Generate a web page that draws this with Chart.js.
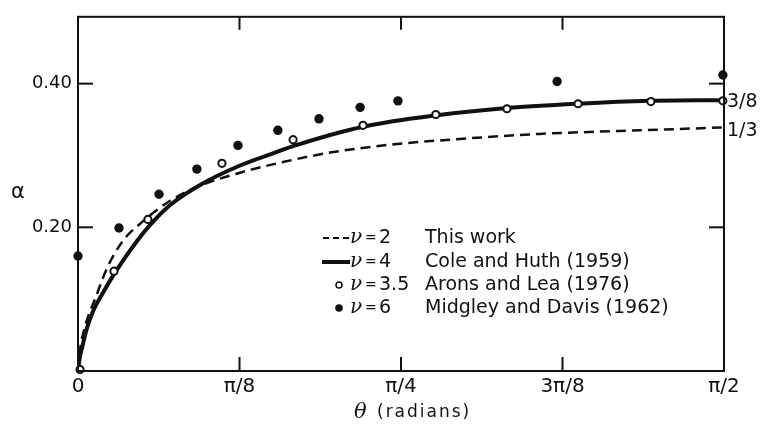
<!DOCTYPE html>
<html>
<head>
<meta charset="utf-8">
<script src="https://cdn.jsdelivr.net/npm/chart.js@4"></script>
<style>
  body { margin: 0; background: #fff; }
  canvas { display: block; }
</style>
</head>
<body>
<canvas id="alphaChart" width="763" height="427"></canvas>
<script>
// curve nu = 2 (this work), dashed
const thetaNu2 = [0, 0.004, 0.012, 0.046, 0.0705, 0.109, 0.151, 0.224, 0.297, 0.394, 0.484, 0.613, 0.759, 0.905, 1.123, 1.367, 1.5708];
const alphaNu2 = [0, 0.025, 0.051, 0.107, 0.143, 0.181, 0.205, 0.237, 0.258, 0.276, 0.289, 0.304, 0.315, 0.322, 0.330, 0.335, 0.339];

// curve nu = 4 (Cole and Huth), thick solid
const thetaNu4 = [0, 0.004, 0.0097, 0.0219, 0.0365, 0.0608, 0.090, 0.1435, 0.175, 0.224, 0.297, 0.394, 0.484, 0.523, 0.693, 0.873, 1.043, 1.216, 1.391, 1.5708];
const alphaNu4 = [0, 0.018, 0.032, 0.060, 0.083, 0.109, 0.137, 0.181, 0.203, 0.231, 0.259, 0.286, 0.305, 0.313, 0.340, 0.356, 0.366, 0.372, 0.376, 0.377];

// points nu = 3.5 (Arons and Lea), open circles
const thetaNu35 = [0.005, 0.0875, 0.170, 0.350, 0.523, 0.693, 0.870, 1.043, 1.216, 1.393, 1.568];
const alphaNu35 = [0.002, 0.139, 0.211, 0.289, 0.322, 0.342, 0.357, 0.365, 0.372, 0.375, 0.376];

// points nu = 6 (Midgley and Davis), filled dots
const thetaNu6 = [0, 0.0997, 0.197, 0.289, 0.389, 0.486, 0.586, 0.686, 0.778, 1.165, 1.568];
const alphaNu6 = [0.160, 0.199, 0.246, 0.281, 0.314, 0.335, 0.351, 0.367, 0.376, 0.403, 0.412];

const xTickVals = [0, Math.PI / 8, Math.PI / 4, 3 * Math.PI / 8, Math.PI / 2];
const xTickLabels = ['0', 'π/8', 'π/4', '3π/8', 'π/2'];
const yTickVals = [0.2, 0.4];
const yTickLabels = ['0.20', '0.40'];
const rightTickVals = [1 / 3, 3 / 8];
const rightTickLabels = ['1/3', '3/8'];

const legendNu = ['2', '4', '3.5', '6'];
const legendSource = ['This work', 'Cole and Huth (1959)', 'Arons and Lea (1976)', 'Midgley and Davis (1962)'];

const ink = '#111';
const sans = '"DejaVu Sans", sans-serif';

function pairs(xs, ys) {
  return xs.map((x, i) => ({ x, y: ys[i] }));
}

function line(ctx, x1, y1, x2, y2) {
  ctx.beginPath();
  ctx.moveTo(x1, y1);
  ctx.lineTo(x2, y2);
  ctx.stroke();
}

// frame, inward ticks, titles and the legend block
const decor = {
  id: 'decor',
  afterDraw(chart) {
    const { ctx, chartArea: a, scales: { x, y } } = chart;
    ctx.save();
    ctx.strokeStyle = ink;
    ctx.fillStyle = ink;
    ctx.lineWidth = 2;
    ctx.strokeRect(a.left, a.top, a.right - a.left, a.bottom - a.top);

    xTickVals.slice(1, -1).forEach(v => {
      const px = x.getPixelForValue(v);
      line(ctx, px, a.bottom, px, a.bottom - 14);
      line(ctx, px, a.top, px, a.top + 13);
    });
    yTickVals.forEach(v => {
      const py = y.getPixelForValue(v);
      line(ctx, a.left, py, a.left + 15, py);
      line(ctx, a.right, py, a.right - 15, py);
    });

    // axis titles
    ctx.textBaseline = 'middle';
    ctx.textAlign = 'left';
    ctx.font = '21px ' + sans;
    ctx.fillText('α', 11, 193);
    ctx.font = 'italic 21px "DejaVu Serif", serif';
    ctx.fillText('θ', 354, 413);
    ctx.font = '17px ' + sans;
    ctx.letterSpacing = '2px';
    ctx.fillText('(radians)', 377, 413);
    ctx.letterSpacing = '0px';

    // legend
    const rows = [238, 262, 285, 308];
    rows.forEach((ry, i) => {
      ctx.lineWidth = 2;
      if (i === 0) {
        ctx.lineWidth = 2.2;
        ctx.setLineDash([6, 4]);
        line(ctx, 323, ry, 349, ry);
        ctx.setLineDash([]);
      } else if (i === 1) {
        ctx.lineWidth = 4;
        line(ctx, 322, ry, 350, ry);
      } else if (i === 2) {
        ctx.lineWidth = 1.5;
        ctx.beginPath();
        ctx.arc(339, ry, 3, 0, Math.PI * 2);
        ctx.stroke();
      } else {
        ctx.beginPath();
        ctx.arc(339, ry, 3.8, 0, Math.PI * 2);
        ctx.fill();
      }
      ctx.font = 'italic 20px "DejaVu Serif", serif';
      ctx.fillText('ν', 350, ry);
      ctx.font = '14px ' + sans;
      ctx.fillText('=', 365, ry);
      ctx.font = '19px ' + sans;
      ctx.fillText(legendNu[i], 379, ry);
      ctx.fillText(legendSource[i], 425, ry);
    });
    ctx.restore();
  }
};

const ctx = document.getElementById('alphaChart').getContext('2d');
new Chart(ctx, {
  type: 'scatter',
  data: {
    datasets: [
      {
        label: 'ν = 6 Midgley and Davis (1962)',
        data: pairs(thetaNu6, alphaNu6),
        pointRadius: 4.7,
        pointBackgroundColor: ink,
        pointBorderWidth: 0,
        clip: false,
        order: 0
      },
      {
        label: 'ν = 3.5 Arons and Lea (1976)',
        data: pairs(thetaNu35, alphaNu35),
        pointRadius: 3.6,
        pointBackgroundColor: '#fff',
        pointBorderColor: ink,
        pointBorderWidth: 2,
        clip: false,
        order: 0
      },
      {
        label: 'ν = 4 Cole and Huth (1959)',
        data: pairs(thetaNu4, alphaNu4),
        showLine: true,
        pointRadius: 0,
        borderColor: ink,
        borderWidth: 4,
        cubicInterpolationMode: 'monotone',
        order: 1
      },
      {
        label: 'ν = 2 This work',
        data: pairs(thetaNu2, alphaNu2),
        showLine: true,
        pointRadius: 0,
        borderColor: ink,
        borderWidth: 2.5,
        borderDash: [10, 6],
        cubicInterpolationMode: 'monotone',
        order: 2
      }
    ]
  },
  options: {
    responsive: false,
    animation: false,
    layout: { padding: { top: 15, left: 0, right: 0, bottom: 0 } },
    plugins: {
      legend: { display: false },
      tooltip: { enabled: false }
    },
    scales: {
      x: {
        type: 'linear',
        min: 0,
        max: Math.PI / 2,
        afterBuildTicks: s => { s.ticks = xTickVals.map(v => ({ value: v })); },
        afterFit: s => { s.height = 56; },
        grid: { display: false, drawTicks: false },
        border: { display: false },
        ticks: {
          autoSkip: false,
          maxRotation: 0,
          padding: 4,
          color: ink,
          font: { family: sans, size: 20 },
          callback: (v, i) => xTickLabels[i]
        }
      },
      y: {
        type: 'linear',
        position: 'left',
        min: 0,
        max: 0.493,
        afterBuildTicks: s => { s.ticks = yTickVals.map(v => ({ value: v })); },
        afterFit: s => { s.width = 78; },
        grid: { display: false, drawTicks: false },
        border: { display: false },
        ticks: {
          padding: 6,
          color: ink,
          font: { family: sans, size: 18 },
          callback: (v, i) => yTickLabels[i]
        }
      },
      y2: {
        type: 'linear',
        position: 'right',
        min: 0,
        max: 0.493,
        afterBuildTicks: s => { s.ticks = rightTickVals.map(v => ({ value: v })); },
        afterFit: s => { s.width = 39; },
        grid: { display: false, drawTicks: false },
        border: { display: false },
        ticks: {
          padding: 3,
          color: ink,
          font: { family: sans, size: 19 },
          callback: (v, i) => rightTickLabels[i]
        }
      }
    }
  },
  plugins: [decor]
});
</script>
</body>
</html>
